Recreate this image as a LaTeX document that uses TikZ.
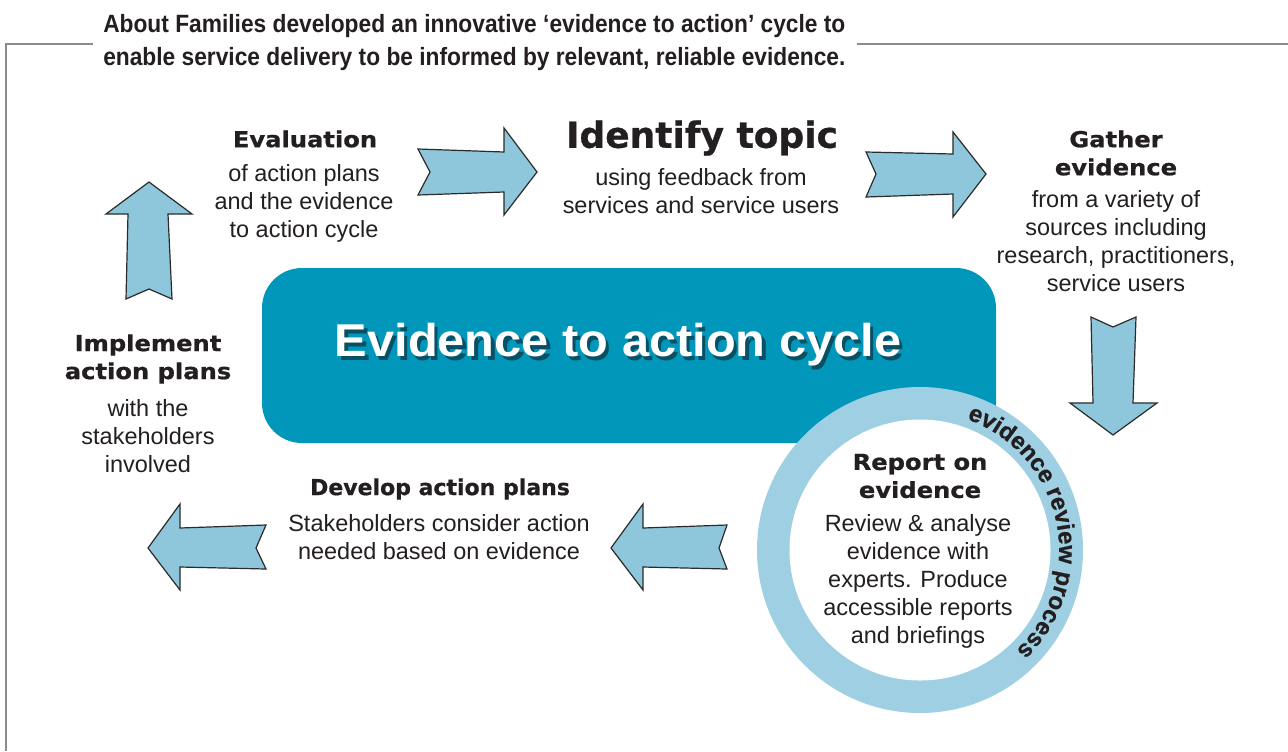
\documentclass[tikz,border=0pt]{standalone}
\usepackage{fontspec}
\usetikzlibrary{decorations.text}
\setmainfont{Liberation Sans}
\newfontfamily\bodyfam{Liberation Sans}
\newfontfamily\hdrfam[FakeStretch=0.91]{Liberation Sans}
\newfontfamily\bigfam[FakeStretch=1.06]{Liberation Sans}
\newfontfamily\curvefam[FakeBold=0.6]{Liberation Sans}
\newfontfamily\wideheadfam[FakeStretch=1.1,FakeBold=0.8]{DejaVu Sans}
\newfontfamily\headfam[FakeBold=0.8]{DejaVu Sans}
\definecolor{ink}{HTML}{231F20}
\definecolor{boxblue}{HTML}{0097BA}
\definecolor{ringblue}{HTML}{9FCFE2}
\definecolor{arrowfill}{HTML}{8EC6DB}
\definecolor{arrowline}{HTML}{2B2B2B}
\definecolor{framegray}{HTML}{8C8C8C}
\definecolor{shadowdark}{RGB}{10,80,100}
\newcommand\cyclelabel{Evidence to action cycle}
\tikzset{
  bodytext/.style={inner sep=0pt, align=center, text=ink, font=\bodyfam\fontsize{17.6}{21}\selectfont},
  headwide/.style={inner sep=0pt, align=center, text=ink, font=\wideheadfam\bfseries\fontsize{16.5}{21}\selectfont},
  headnorm/.style={inner sep=0pt, align=center, text=ink, font=\headfam\bfseries\fontsize{16.5}{21}\selectfont},
  blockarrow/.style={fill=arrowfill, draw=arrowline, line width=0.9pt, line join=miter},
  framerule/.style={draw=framegray, line width=1.1pt},
  cycletitle/.style={inner sep=0pt, font=\bigfam\bfseries\fontsize{34.5}{40}\selectfont}
}
\begin{document}
\begin{tikzpicture}[x=0.75pt,y=-0.75pt]
\useasboundingbox (0,0) rectangle (1288,751);
\fill[white] (0,0) rectangle (1288,751);

% frame
\draw[framerule] (93,44) -- (6,44) -- (6,751);
\draw[framerule] (857,44) -- (1288,44);

% title
\node[inner sep=0pt, anchor=west, align=left, text=ink,
      font=\hdrfam\bfseries\fontsize{18.75}{24.75}\selectfont] (title) at (103,43)
  {About Families developed an innovative ‘evidence to action’ cycle to\\
   enable service delivery to be informed by relevant, reliable evidence.};

% central box
\fill[boxblue, rounded corners=30pt] (262,268) rectangle (996,443);
\node[cycletitle, text=white] (cycle) at (618,347)
  {\makebox[0pt][l]{\hspace{2.5pt}\raisebox{-3pt}{\textcolor{shadowdark}{\cyclelabel}}}%
   \cyclelabel};

% evidence review ring
\fill[ringblue] (920,550) circle[radius=163];
\fill[white] (920,550) circle[radius=130.5];
\path[decorate, decoration={text along path, text align=center, text color=ink,
   text={|\curvefam\bfseries\fontsize{18}{18}\selectfont|evidence review process}}]
   (920,550) ++(-71:139) arc[start angle=-71, end angle=47, radius=139];

% Evaluation
\node[headwide] (evalh) at (305,139) {Evaluation};
\node[bodytext] (evalb) at (304,203) {of action plans\\and the evidence\\to action cycle};

% Identify topic
\node[inner sep=0pt, text=ink, font=\headfam\bfseries\fontsize{27}{30}\selectfont] (identh) at (702,138) {Identify topic};
\node[bodytext] (identb) at (701,191) {using feedback from\\services and service users};

% Gather evidence
\node[headwide] (gathh) at (1116,153) {Gather\\evidence};
\node[bodytext] (gathb) at (1116,241) {from a variety of\\sources including\\research, practitioners,\\service users};

% Report on evidence
\node[headwide] (reph) at (920,476) {Report on\\evidence};
\node[bodytext] (repb) at (918,581) {Review \& analyse\\evidence with\\experts. Produce\\accessible reports\\and briefings};

% Develop action plans
\node[headnorm] (devh) at (440,489) {Develop action plans};
\node[bodytext] (devb) at (439,537) {Stakeholders consider action\\needed based on evidence};

% Implement action plans
\node[headwide] (imph) at (148,359) {Implement\\action plans};
\node[bodytext] (impb) at (148,436) {with the\\stakeholders\\involved};

% block arrows
\draw[blockarrow] (418,149) -- (504,152) -- (504,128) -- (537,172) -- (504,215) -- (504,192) -- (418,195) -- (430,172) -- cycle;
\draw[blockarrow] (866,152) -- (953,154) -- (953,132) -- (986,174) -- (953,217) -- (953,194) -- (866,197) -- (876,174) -- cycle;
\draw[blockarrow] (1091,317) -- (1113,327) -- (1136,317) -- (1133,403) -- (1157,403) -- (1113,435) -- (1070,403) -- (1093,403) -- cycle;
\draw[blockarrow] (727,525) -- (643,528) -- (643,504) -- (611,548) -- (643,590) -- (643,567) -- (727,569) -- (719,548) -- cycle;
\draw[blockarrow] (266,525) -- (180,528) -- (180,504) -- (148,548) -- (180,590) -- (180,567) -- (266,569) -- (256,548) -- cycle;
\draw[blockarrow] (126,299) -- (128,214) -- (106,214) -- (149,182) -- (192,214) -- (168,214) -- (172,299) -- (149,289) -- cycle;
\end{tikzpicture}
\end{document}
